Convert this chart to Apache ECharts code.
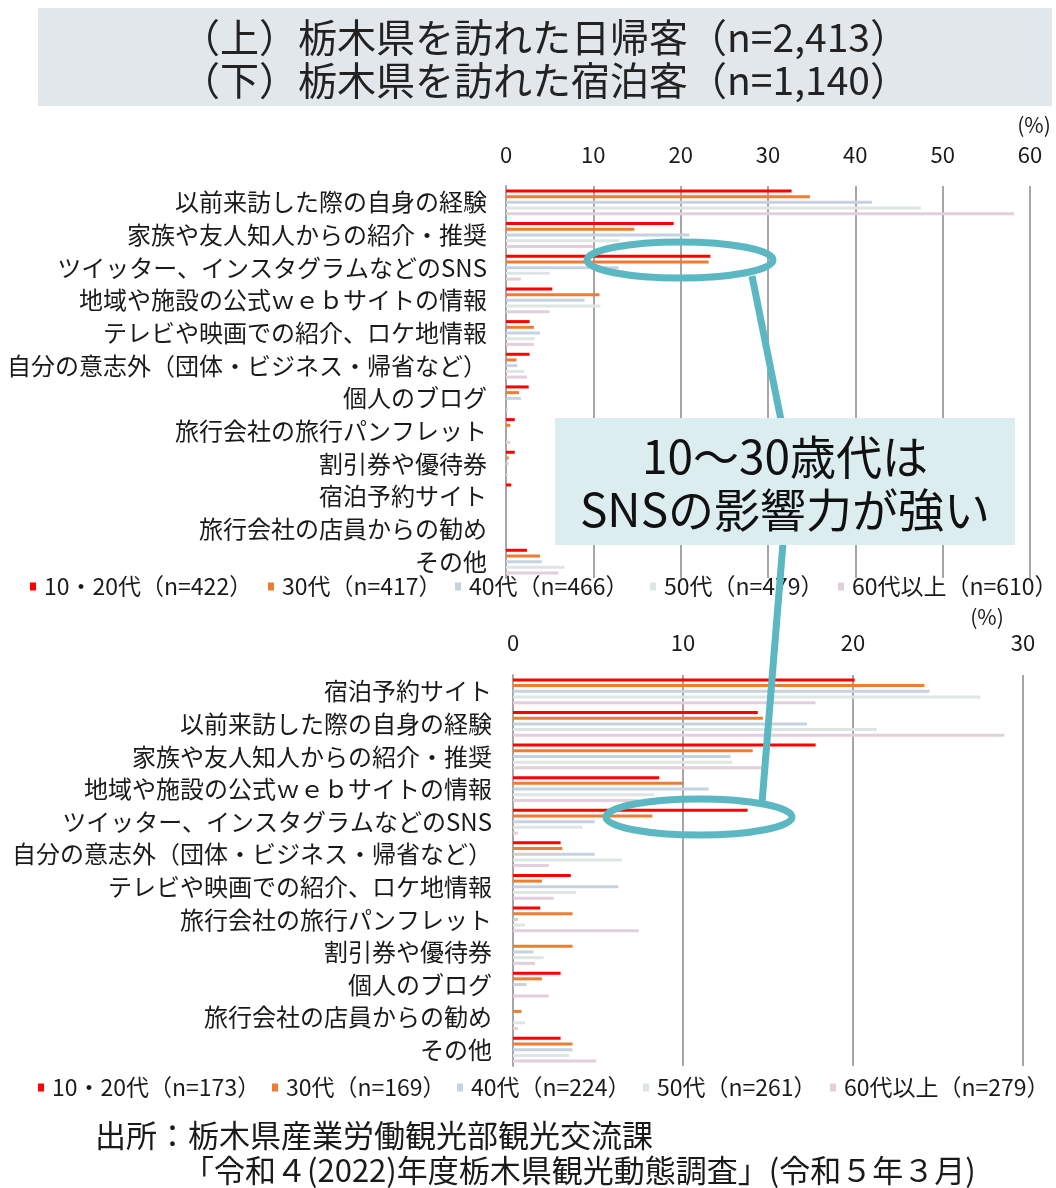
<!DOCTYPE html>
<html>
<head>
<meta charset="utf-8">
<script src="https://cdn.jsdelivr.net/npm/echarts@6/dist/echarts.min.js"></script>
<style>
  html, body { margin: 0; padding: 0; background: #fff; }
  #chart { width: 1056px; height: 1188px; }
</style>
</head>
<body>
<div id="chart"></div>
<script>
// 日帰客 (上)
const categoriesTop = [
  "以前来訪した際の自身の経験",
  "家族や友人知人からの紹介・推奨",
  "ツイッター、インスタグラムなどのSNS",
  "地域や施設の公式ｗｅｂサイトの情報",
  "テレビや映画での紹介、ロケ地情報",
  "自分の意志外（団体・ビジネス・帰省など）",
  "個人のブログ",
  "旅行会社の旅行パンフレット",
  "割引券や優待券",
  "宿泊予約サイト",
  "旅行会社の店員からの勧め",
  "その他"
];
const namesTop = ["10・20代（n=422）", "30代（n=417）", "40代（n=466）", "50代（n=479）", "60代以上（n=610）"];
const top1020 = [32.7, 19.2, 23.4, 5.3, 2.7, 2.7, 2.6, 1.0, 1.0, 0.6, 0, 2.4];
const top30   = [34.8, 14.7, 23.2, 10.7, 3.2, 1.2, 1.5, 0.5, 0.3, 0, 0, 3.9];
const top40   = [41.9, 21.0, 12.9, 9.0, 3.9, 1.3, 1.7, 0, 0.3, 0, 0, 4.1];
const top50   = [47.5, 13.0, 5.0, 10.8, 3.3, 2.1, 0, 0, 0, 0, 0, 6.7];
const top60   = [58.2, 10.0, 1.7, 5.0, 3.2, 2.4, 0.2, 0.5, 0.2, 0, 0, 6.0];

// 宿泊客 (下)
const categoriesBottom = [
  "宿泊予約サイト",
  "以前来訪した際の自身の経験",
  "家族や友人知人からの紹介・推奨",
  "地域や施設の公式ｗｅｂサイトの情報",
  "ツイッター、インスタグラムなどのSNS",
  "自分の意志外（団体・ビジネス・帰省など）",
  "テレビや映画での紹介、ロケ地情報",
  "旅行会社の旅行パンフレット",
  "割引券や優待券",
  "個人のブログ",
  "旅行会社の店員からの勧め",
  "その他"
];
const namesBottom = ["10・20代（n=173）", "30代（n=169）", "40代（n=224）", "50代（n=261）", "60代以上（n=279）"];
const bot1020 = [20.1, 14.4, 17.8, 8.6, 13.8, 2.8, 3.4, 1.6, 0, 2.8, 0, 2.8];
const bot30   = [24.2, 14.7, 14.1, 10.0, 8.2, 2.9, 1.7, 3.5, 3.5, 1.7, 0.5, 3.5];
const bot40   = [24.5, 17.3, 12.8, 11.5, 4.8, 4.8, 6.2, 0.3, 1.2, 0.8, 0, 3.5];
const bot50   = [27.5, 21.4, 12.9, 8.3, 4.1, 6.4, 3.7, 0.7, 1.8, 0, 0.7, 3.3];
const bot60   = [17.8, 28.9, 15.0, 7.4, 0.3, 2.1, 2.4, 7.4, 1.3, 2.1, 0.3, 4.9];

const ticksTop = [0, 60, 10];
const ticksBottom = [0, 30, 10];

const colors = ["#ff0000", "#ed7d31", "#c6d2e2", "#dde6e2", "#e2cfdb"];
const FONT = "'Noto Sans CJK JP', 'Noto Sans', sans-serif";
const TEXT = "#1a1a1a";
const GRID_LINE = "#a6a6a6";
const TEAL = "#5bb7c1";

const chart = echarts.init(document.getElementById("chart"));

const xAxisCommon = (grid, range, margin) => ({
  gridIndex: grid,
  type: "value",
  position: "top",
  min: range[0],
  max: range[1],
  interval: range[2],
  axisLine: { show: false },
  axisTick: { show: false },
  axisLabel: { fontSize: 22, color: TEXT, fontFamily: FONT, margin: margin },
  splitLine: { show: true, lineStyle: { color: GRID_LINE, width: 2 } }
});

const yAxisCommon = (grid, cats, margin) => ({
  gridIndex: grid,
  type: "category",
  inverse: true,
  data: cats,
  axisLine: { show: true, lineStyle: { color: GRID_LINE, width: 2 } },
  axisTick: { show: false },
  axisLabel: { fontSize: 24, color: TEXT, fontFamily: FONT, margin: margin, interval: 0 }
});

const makeSeries = (names, values, axisIdx) =>
  names.map((name, i) => ({
    type: "bar",
    name: name,
    xAxisIndex: axisIdx,
    yAxisIndex: axisIdx,
    data: values[i],
    barWidth: 3,
    barGap: "90%",
    itemStyle: { color: colors[i] },
    emphasis: { disabled: true },
    silent: true
  }));

const legendLeftTop = [30, 268, 455, 650, 838];
const legendLeftBottom = [38, 272, 457, 643, 830];
const makeLegends = (names, lefts, top) =>
  names.map((name, i) => ({
    data: [name],
    left: lefts[i],
    top: top,
    selectedMode: false,
    icon: "rect",
    itemWidth: 6,
    itemHeight: 8,
    itemGap: 0,
    padding: 0,
    textStyle: { fontSize: 23, color: TEXT, fontFamily: FONT, padding: [0, 0, 0, 3] }
  }));

const option = {
  animation: false,
  backgroundColor: "#ffffff",
  textStyle: { fontFamily: FONT },
  grid: [
    { left: 506, top: 186, width: 524, height: 392 },
    { left: 513, top: 675, width: 510, height: 391 }
  ],
  xAxis: [xAxisCommon(0, ticksTop, 20), xAxisCommon(1, ticksBottom, 21)],
  yAxis: [yAxisCommon(0, categoriesTop, 19), yAxisCommon(1, categoriesBottom, 21)],
  legend: makeLegends(namesTop, legendLeftTop, 575).concat(makeLegends(namesBottom, legendLeftBottom, 1076)),
  series: makeSeries(namesTop, [top1020, top30, top40, top50, top60], 0)
    .concat(makeSeries(namesBottom, [bot1020, bot30, bot40, bot50, bot60], 1)),
  graphic: [
    // title box
    { type: "rect", left: 38, top: 8, shape: { width: 1014, height: 98 }, style: { fill: "#e2e7eb" }, z: 1 },
    { type: "text", x: 545, y: 37, z: 2, style: { text: "（上）栃木県を訪れた日帰客（n=2,413）", fontSize: 39, fontFamily: FONT, fill: "#222", align: "center", verticalAlign: "middle" } },
    { type: "text", x: 545, y: 80, z: 2, style: { text: "（下）栃木県を訪れた宿泊客（n=1,140）", fontSize: 39, fontFamily: FONT, fill: "#222", align: "center", verticalAlign: "middle" } },
    // unit labels
    { type: "text", x: 1034, y: 125, z: 2, style: { text: "(%)", fontSize: 21, fontFamily: FONT, fill: TEXT, align: "center", verticalAlign: "middle" } },
    { type: "text", x: 987, y: 617, z: 2, style: { text: "(%)", fontSize: 21, fontFamily: FONT, fill: TEXT, align: "center", verticalAlign: "middle" } },
    // callout
    { type: "line", z: 50, shape: { x1: 752, y1: 276, x2: 781, y2: 420 }, style: { stroke: TEAL, lineWidth: 7 } },
    { type: "line", z: 50, shape: { x1: 783, y1: 543, x2: 762, y2: 803 }, style: { stroke: TEAL, lineWidth: 7 } },
    { type: "ellipse", z: 51, shape: { cx: 680, cy: 260, rx: 93, ry: 18 }, style: { fill: "none", stroke: TEAL, lineWidth: 7 } },
    { type: "ellipse", z: 51, shape: { cx: 699, cy: 817, rx: 93, ry: 18 }, style: { fill: "none", stroke: TEAL, lineWidth: 7 } },
    { type: "rect", z: 52, left: 555, top: 418, shape: { width: 460, height: 127 }, style: { fill: "#dcedf0" } },
    { type: "text", z: 53, x: 785, y: 457, style: { text: "10～30歳代は", fontSize: 46, fontFamily: FONT, fill: "#111", align: "center", verticalAlign: "middle" } },
    { type: "text", z: 53, x: 785, y: 510, style: { text: "SNSの影響力が強い", fontSize: 46, fontFamily: FONT, fill: "#111", align: "center", verticalAlign: "middle" } },
    // source
    { type: "text", x: 95, y: 1135, z: 2, style: { text: "出所：栃木県産業労働観光部観光交流課", fontSize: 31, fontFamily: FONT, fill: TEXT, verticalAlign: "middle" } },
    { type: "text", x: 183, y: 1170, z: 2, style: { text: "「令和４(2022)年度栃木県観光動態調査」(令和５年３月)", fontSize: 31, fontFamily: FONT, fill: TEXT, verticalAlign: "middle" } }
  ]
};

chart.setOption(option);
</script>
</body>
</html>
